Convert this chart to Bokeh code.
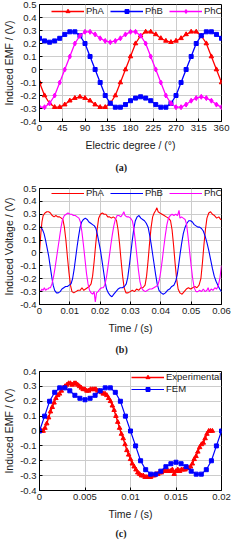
from bokeh.plotting import figure
from bokeh.layouts import column
from bokeh.models import Range1d, FixedTicker, CustomJSTickFormatter, Legend, LegendItem, Title
from bokeh.embed import file_html
from bokeh.resources import INLINE

# ---------------- data: panel (a) ----------------
a_deg = [0, 10, 20, 30, 40, 50, 60, 70, 80, 90, 100, 110, 120, 130, 140, 150, 160, 170, 180,
         190, 200, 210, 220, 230, 240, 250, 260, 270, 280, 290, 300, 310, 320, 330, 340, 350, 360]
a_pha = [-0.10, -0.20, -0.26, -0.29, -0.29, -0.27, -0.24, -0.22, -0.21, -0.22, -0.24, -0.27, -0.29,
         -0.29, -0.26, -0.20, -0.10, 0.00, 0.10, 0.20, 0.26, 0.29, 0.29, 0.27, 0.24, 0.22, 0.21,
         0.22, 0.24, 0.27, 0.29, 0.29, 0.26, 0.20, 0.10, 0.00, -0.10]
a_phb = [0.24, 0.22, 0.21, 0.22, 0.24, 0.27, 0.29, 0.29, 0.26, 0.20, 0.10, 0.00, -0.10, -0.20,
         -0.26, -0.29, -0.29, -0.27, -0.24, -0.22, -0.21, -0.22, -0.24, -0.27, -0.29, -0.29, -0.26,
         -0.20, -0.10, 0.00, 0.10, 0.20, 0.26, 0.29, 0.29, 0.27, 0.24]
a_phc = [-0.29, -0.29, -0.26, -0.20, -0.10, 0.00, 0.10, 0.20, 0.26, 0.29, 0.29, 0.27, 0.24, 0.22,
         0.21, 0.22, 0.24, 0.27, 0.29, 0.29, 0.26, 0.20, 0.10, 0.00, -0.10, -0.20, -0.26, -0.29,
         -0.29, -0.27, -0.24, -0.22, -0.21, -0.22, -0.24, -0.27, -0.29]
a_xticks = [0, 45, 90, 135, 180, 225, 270, 315, 360]
ab_yticks = [-0.4, -0.3, -0.2, -0.1, 0, 0.1, 0.2, 0.3, 0.4, 0.5]

# ---------------- data: panel (b) ----------------
b_t_a = [0.0000, 0.0004, 0.0008, 0.0012, 0.0018, 0.0024, 0.0030, 0.0036, 0.0042, 0.0048,
         0.0054, 0.0060, 0.0066, 0.0072, 0.0077, 0.0082, 0.0087, 0.0092, 0.0097, 0.0102,
         0.0107, 0.0113, 0.0120, 0.0127, 0.0134, 0.0140, 0.0146, 0.0152, 0.0158, 0.0164,
         0.0170, 0.0175, 0.0180, 0.0185, 0.0190, 0.0195, 0.0201, 0.0207, 0.0213, 0.0219,
         0.0225, 0.0231, 0.0237, 0.0243, 0.0249, 0.0254, 0.0259, 0.0264, 0.0269, 0.0274,
         0.0279, 0.0285, 0.0292, 0.0299, 0.0306, 0.0313, 0.0320, 0.0327, 0.0334, 0.0341,
         0.0348, 0.0353, 0.0358, 0.0363, 0.0368, 0.0373, 0.0378, 0.0383, 0.0387, 0.0391,
         0.0397, 0.0404, 0.0411, 0.0418, 0.0425, 0.0432, 0.0437, 0.0442, 0.0447, 0.0452,
         0.0457, 0.0463, 0.0470, 0.0477, 0.0484, 0.0491, 0.0498, 0.0505, 0.0512, 0.0519,
         0.0526, 0.0532, 0.0537, 0.0542, 0.0547, 0.0552, 0.0558, 0.0564, 0.0570, 0.0577,
         0.0584, 0.0591, 0.0597, 0.0600]
b_v_a = [0.00, 0.14, 0.24, 0.29, 0.31, 0.32, 0.32, 0.31, 0.29, 0.28,
         0.29, 0.28, 0.28, 0.27, 0.26, 0.20, 0.10, -0.03, -0.15, -0.25,
         -0.30, -0.31, -0.30, -0.29, -0.29, -0.27, -0.29, -0.28, -0.27, -0.26,
         -0.24, -0.18, -0.07, 0.06, 0.18, 0.27, 0.30, 0.31, 0.30, 0.30,
         0.28, 0.28, 0.27, 0.28, 0.27, 0.25, 0.18, 0.07, -0.06, -0.18,
         -0.27, -0.31, -0.31, -0.30, -0.29, -0.30, -0.28, -0.29, -0.27, -0.27,
         -0.25, -0.18, -0.06, 0.08, 0.20, 0.28, 0.31, 0.33, 0.35, 0.32,
         0.31, 0.30, 0.29, 0.28, 0.27, 0.25, 0.18, 0.06, -0.08, -0.20,
         -0.28, -0.31, -0.32, -0.30, -0.28, -0.27, -0.28, -0.27, -0.26, -0.27,
         -0.25, -0.20, -0.08, 0.06, 0.18, 0.27, 0.31, 0.32, 0.30, 0.29,
         0.27, 0.28, 0.26, 0.26]
b_t_b = [0.0000, 0.0005, 0.0010, 0.0015, 0.0020, 0.0025, 0.0030, 0.0035, 0.0040, 0.0045,
         0.0050, 0.0056, 0.0062, 0.0068, 0.0074, 0.0080, 0.0086, 0.0092, 0.0098, 0.0104,
         0.0109, 0.0114, 0.0119, 0.0124, 0.0129, 0.0134, 0.0139, 0.0145, 0.0151, 0.0157,
         0.0163, 0.0169, 0.0175, 0.0181, 0.0186, 0.0191, 0.0196, 0.0201, 0.0206, 0.0211,
         0.0216, 0.0221, 0.0227, 0.0233, 0.0239, 0.0245, 0.0252, 0.0259, 0.0266, 0.0273,
         0.0280, 0.0286, 0.0291, 0.0296, 0.0301, 0.0306, 0.0311, 0.0316, 0.0322, 0.0328,
         0.0334, 0.0340, 0.0346, 0.0352, 0.0358, 0.0363, 0.0368, 0.0373, 0.0378, 0.0383,
         0.0388, 0.0394, 0.0401, 0.0408, 0.0415, 0.0422, 0.0429, 0.0436, 0.0443, 0.0449,
         0.0454, 0.0459, 0.0464, 0.0469, 0.0474, 0.0480, 0.0486, 0.0492, 0.0498, 0.0504,
         0.0510, 0.0516, 0.0522, 0.0528, 0.0534, 0.0540, 0.0546, 0.0552, 0.0558, 0.0564,
         0.0570, 0.0576, 0.0582, 0.0588, 0.0594, 0.0600]
b_v_b = [0.20, 0.20, 0.18, 0.15, 0.10, 0.04, -0.02, -0.10, -0.18, -0.25,
         -0.29, -0.31, -0.31, -0.30, -0.28, -0.27, -0.26, -0.26, -0.25, -0.24,
         -0.20, -0.13, -0.04, 0.05, 0.13, 0.20, 0.24, 0.26, 0.27, 0.26,
         0.24, 0.23, 0.22, 0.21, 0.19, 0.14, 0.08, 0.02, -0.06, -0.14,
         -0.22, -0.28, -0.31, -0.33, -0.34, -0.32, -0.30, -0.28, -0.27, -0.27,
         -0.26, -0.24, -0.19, -0.10, 0.00, 0.10, 0.19, 0.25, 0.28, 0.29,
         0.27, 0.26, 0.25, 0.23, 0.20, 0.14, 0.07, -0.01, -0.09, -0.17,
         -0.24, -0.29, -0.31, -0.32, -0.31, -0.29, -0.28, -0.26, -0.25, -0.22,
         -0.17, -0.09, 0.00, 0.08, 0.15, 0.20, 0.23, 0.25, 0.25, 0.24,
         0.22, 0.21, 0.20, 0.20, 0.19, 0.17, 0.13, 0.08, 0.02, -0.05,
         -0.12, -0.18, -0.22, -0.25, -0.28, -0.30]
b_t_c = [0.0000, 0.0004, 0.0008, 0.0012, 0.0016, 0.0020, 0.0024, 0.0028, 0.0032, 0.0036,
         0.0041, 0.0046, 0.0051, 0.0056, 0.0061, 0.0066, 0.0071, 0.0076, 0.0082, 0.0088,
         0.0094, 0.0100, 0.0106, 0.0112, 0.0118, 0.0124, 0.0130, 0.0135, 0.0140, 0.0145,
         0.0150, 0.0155, 0.0160, 0.0165, 0.0170, 0.0175, 0.0180, 0.0184, 0.0188, 0.0193,
         0.0199, 0.0205, 0.0210, 0.0215, 0.0220, 0.0225, 0.0230, 0.0235, 0.0240, 0.0245,
         0.0250, 0.0256, 0.0262, 0.0268, 0.0274, 0.0278, 0.0282, 0.0288, 0.0294, 0.0300,
         0.0306, 0.0311, 0.0316, 0.0321, 0.0326, 0.0331, 0.0336, 0.0342, 0.0349, 0.0356,
         0.0363, 0.0370, 0.0377, 0.0384, 0.0390, 0.0395, 0.0400, 0.0405, 0.0410, 0.0415,
         0.0420, 0.0425, 0.0431, 0.0437, 0.0443, 0.0449, 0.0455, 0.0460, 0.0463, 0.0468,
         0.0474, 0.0480, 0.0485, 0.0490, 0.0495, 0.0500, 0.0505, 0.0510, 0.0516, 0.0522,
         0.0528, 0.0534, 0.0540, 0.0546, 0.0552, 0.0556, 0.0560, 0.0566, 0.0572, 0.0578,
         0.0584, 0.0590, 0.0595, 0.0600]
b_v_c = [-0.29, -0.30, -0.28, -0.29, -0.27, -0.29, -0.28, -0.28, -0.27, -0.27,
         -0.24, -0.19, -0.12, -0.04, 0.04, 0.12, 0.20, 0.26, 0.29, 0.30,
         0.31, 0.30, 0.30, 0.29, 0.29, 0.28, 0.27, 0.24, 0.16, 0.06,
         -0.05, -0.16, -0.24, -0.29, -0.31, -0.32, -0.30, -0.38, -0.31, -0.30,
         -0.28, -0.27, -0.27, -0.25, -0.20, -0.12, -0.03, 0.06, 0.14, 0.21,
         0.26, 0.29, 0.29, 0.28, 0.30, 0.32, 0.29, 0.28, 0.28, 0.27,
         0.25, 0.19, 0.09, -0.02, -0.13, -0.22, -0.27, -0.29, -0.30, -0.29,
         -0.28, -0.28, -0.27, -0.26, -0.25, -0.21, -0.14, -0.05, 0.05, 0.14,
         0.22, 0.27, 0.29, 0.30, 0.29, 0.30, 0.29, 0.33, 0.27, 0.28,
         0.27, 0.26, 0.22, 0.12, 0.01, -0.10, -0.20, -0.27, -0.30, -0.30,
         -0.29, -0.30, -0.28, -0.30, -0.29, -0.27, -0.30, -0.28, -0.29, -0.27,
         -0.28, -0.25, -0.19, -0.10]
b_xticks = [0, 0.01, 0.02, 0.03, 0.04, 0.05, 0.06]

# ---------------- data: panel (c) ----------------
c_t_exp = [0.0000, 0.0002, 0.0004, 0.0006, 0.0008, 0.0010, 0.0012, 0.0014, 0.0016, 0.0018,
           0.0020, 0.0022, 0.0024, 0.0026, 0.0028, 0.0030, 0.0032, 0.0034, 0.0036, 0.0038,
           0.0040, 0.0042, 0.0044, 0.0046, 0.0048, 0.0050, 0.0052, 0.0054, 0.0056, 0.0058,
           0.0060, 0.0062, 0.0064, 0.0066, 0.0068, 0.0070, 0.0072, 0.0074, 0.0076, 0.0078,
           0.0080, 0.0082, 0.0084, 0.0086, 0.0088, 0.0090, 0.0092, 0.0094, 0.0096, 0.0098,
           0.0100, 0.0102, 0.0104, 0.0106, 0.0108, 0.0110, 0.0112, 0.0114, 0.0116, 0.0118,
           0.0120, 0.0122, 0.0124, 0.0126, 0.0128, 0.0130, 0.0132, 0.0134, 0.0136, 0.0138,
           0.0140, 0.0142, 0.0144, 0.0146, 0.0148, 0.0150, 0.0152, 0.0154, 0.0156, 0.0158,
           0.0160, 0.0162, 0.0164, 0.0166, 0.0168, 0.0170, 0.0172, 0.0174, 0.0176, 0.0178,
           0.0180, 0.0182, 0.0184, 0.0186, 0.0188, 0.0190]
c_v_exp = [0.00, 0.00, 0.00, 0.02, 0.05, 0.09, 0.13, 0.16, 0.19, 0.22,
           0.24, 0.25, 0.27, 0.29, 0.30, 0.31, 0.32, 0.32, 0.31, 0.32,
           0.32, 0.31, 0.30, 0.29, 0.28, 0.28, 0.27, 0.27, 0.28, 0.28,
           0.28, 0.28, 0.27, 0.27, 0.26, 0.25, 0.25, 0.24, 0.22, 0.20,
           0.17, 0.14, 0.10, 0.06, 0.02, -0.02, -0.05, -0.09, -0.13, -0.16,
           -0.19, -0.22, -0.24, -0.26, -0.28, -0.29, -0.30, -0.30, -0.31, -0.31,
           -0.31, -0.31, -0.30, -0.30, -0.29, -0.29, -0.28, -0.28, -0.27, -0.27,
           -0.27, -0.27, -0.27, -0.26, -0.29, -0.27, -0.26, -0.27, -0.26, -0.26,
           -0.26, -0.25, -0.25, -0.24, -0.22, -0.19, -0.17, -0.14, -0.11, -0.09,
           -0.08, -0.05, -0.02, 0.00, 0.00, 0.00]
c_t_fem = [0.0, 0.00056, 0.00111, 0.00167, 0.00222, 0.00278, 0.00333, 0.00389, 0.00444, 0.005,
           0.00556, 0.00611, 0.00667, 0.00722, 0.00778, 0.00833, 0.00889, 0.00944, 0.01,
           0.01056, 0.01111, 0.01167, 0.01222, 0.01278, 0.01333, 0.01389, 0.01444, 0.015,
           0.01556, 0.01611, 0.01667, 0.01722, 0.01778, 0.01833, 0.01889, 0.01944, 0.02]
c_v_fem = [0.00, 0.10, 0.20, 0.26, 0.29, 0.29, 0.27, 0.24, 0.22, 0.21, 0.22, 0.24, 0.27, 0.29,
           0.29, 0.26, 0.20, 0.10, 0.00, -0.10, -0.20, -0.26, -0.29, -0.29, -0.27, -0.24, -0.22,
           -0.21, -0.22, -0.24, -0.27, -0.29, -0.29, -0.26, -0.20, -0.10, 0.00]
c_xticks = [0, 0.005, 0.01, 0.015, 0.02]
c_yticks = [-0.4, -0.3, -0.2, -0.1, 0, 0.1, 0.2, 0.3, 0.4]

RED = "#ff0000"
BLUE = "#0000ff"
MAG = "#ff00ff"
FONT = "Liberation Sans"
W = 235
BL, BR = 30, 14


def make(height, top, bottom, xr, yr, xticks, yticks, xlabel, ylabel, caption, cap_standoff):
    p = figure(width=W, height=height, x_range=Range1d(*xr), y_range=Range1d(*yr),
               output_backend="svg", toolbar_location=None,
               min_border_left=BL, min_border_right=BR, min_border_top=top, min_border_bottom=bottom)
    fmt = "return Number(tick.toFixed(4)).toString();"
    p.xaxis.ticker = FixedTicker(ticks=xticks)
    p.yaxis.ticker = FixedTicker(ticks=yticks)
    for ax in (p.xaxis[0], p.yaxis[0]):
        ax.formatter = CustomJSTickFormatter(code=fmt)
        ax.major_label_text_font = FONT
        ax.major_label_text_font_size = "9.5px"
        ax.major_label_text_color = "#1a1a1a"
        ax.axis_label_text_font = FONT
        ax.axis_label_text_font_size = "10.5px"
        ax.axis_label_text_font_style = "normal"
        ax.axis_label_text_color = "#1a1a1a"
        ax.major_tick_in = 3
        ax.major_tick_out = 0
        ax.minor_tick_in = 0
        ax.minor_tick_out = 0
        ax.axis_line_color = "black"
        ax.major_tick_line_color = "black"
        ax.major_label_standoff = 3
    p.xaxis.axis_label_standoff = 5
    p.yaxis.axis_label_standoff = 2
    p.xaxis.axis_label = xlabel
    p.yaxis.axis_label = ylabel
    p.grid.grid_line_color = "#cccccc"
    p.grid.grid_line_width = 1
    p.outline_line_color = "black"
    p.outline_line_alpha = 1
    p.add_layout(Title(text=caption, align="left", offset=76, standoff=cap_standoff,
                       text_font="Liberation Serif", text_font_size="10px",
                       text_font_style="bold", text_color="#1a1a1a"), "below")
    return p


def legend(items, orientation, loc):
    lg = Legend(items=items, orientation=orientation, location=loc,
                background_fill_alpha=0, border_line_alpha=0,
                label_text_font=FONT, label_text_font_size="9.5px", label_text_color="#1a1a1a",
                glyph_width=33, glyph_height=10, label_height=10, label_width=0,
                label_standoff=2, spacing=6, padding=0, margin=0)
    return lg


# ---- (a)
pa = make(178, 4, 50, (0, 360), (-0.4, 0.5), a_xticks, ab_yticks,
          "Electric degree / (°)", "Induced EMF / (V)", "(a)", 12)
la = pa.line(a_deg, a_pha, color=RED, line_width=1.3)
sa = pa.scatter(a_deg, a_pha, marker="triangle", size=4.5, color=RED)
lb = pa.line(a_deg, a_phb, color=BLUE, line_width=1.3)
sb = pa.scatter(a_deg, a_phb, marker="square", size=4, color=BLUE)
lc = pa.line(a_deg, a_phc, color=MAG, line_width=1.3)
sc = pa.scatter(a_deg, a_phc, marker="diamond", size=5, color=MAG)
pa.add_layout(legend([LegendItem(label="PhA", renderers=[la, sa]),
                      LegendItem(label="PhB", renderers=[lb, sb]),
                      LegendItem(label="PhC", renderers=[lc, sc])], "horizontal", (12, 105)))

# ---- (b)
pb = make(181, 10, 46, (0, 0.06), (-0.4, 0.5), b_xticks, ab_yticks,
          "Time / (s)", "Induced Voltage / (V)", "(b)", 10)
ra = pb.line(b_t_a, b_v_a, color=RED, line_width=1.1)
rb = pb.line(b_t_b, b_v_b, color=BLUE, line_width=1.1)
rc = pb.line(b_t_c, b_v_c, color=MAG, line_width=1.1)
pb.add_layout(legend([LegendItem(label="PhA", renderers=[ra]),
                      LegendItem(label="PhB", renderers=[rb]),
                      LegendItem(label="PhC", renderers=[rc])], "horizontal", (12, 106)))

# ---- (c)
pc = make(183, 12, 46, (0, 0.02), (-0.4, 0.4), c_xticks, c_yticks,
          "Time / (s)", "Induced EMF / (V)", "(c)", 7)
le = pc.line(c_t_exp, c_v_exp, color=RED, line_width=1.5)
se = pc.scatter(c_t_exp, c_v_exp, marker="triangle", size=4.5, color=RED)
lf = pc.line(c_t_fem, c_v_fem, color=BLUE, line_width=1.2)
sf = pc.scatter(c_t_fem, c_v_fem, marker="square", size=4, color=BLUE)
lgc = legend([LegendItem(label="Experimental", renderers=[le, se]),
              LegendItem(label="FEM", renderers=[lf, sf])], "vertical", (92, 96))
lgc.spacing = 1
pc.add_layout(lgc)

layout = column(pa, pb, pc, spacing=0)
open("out.html", "w").write(file_html(layout, INLINE))
